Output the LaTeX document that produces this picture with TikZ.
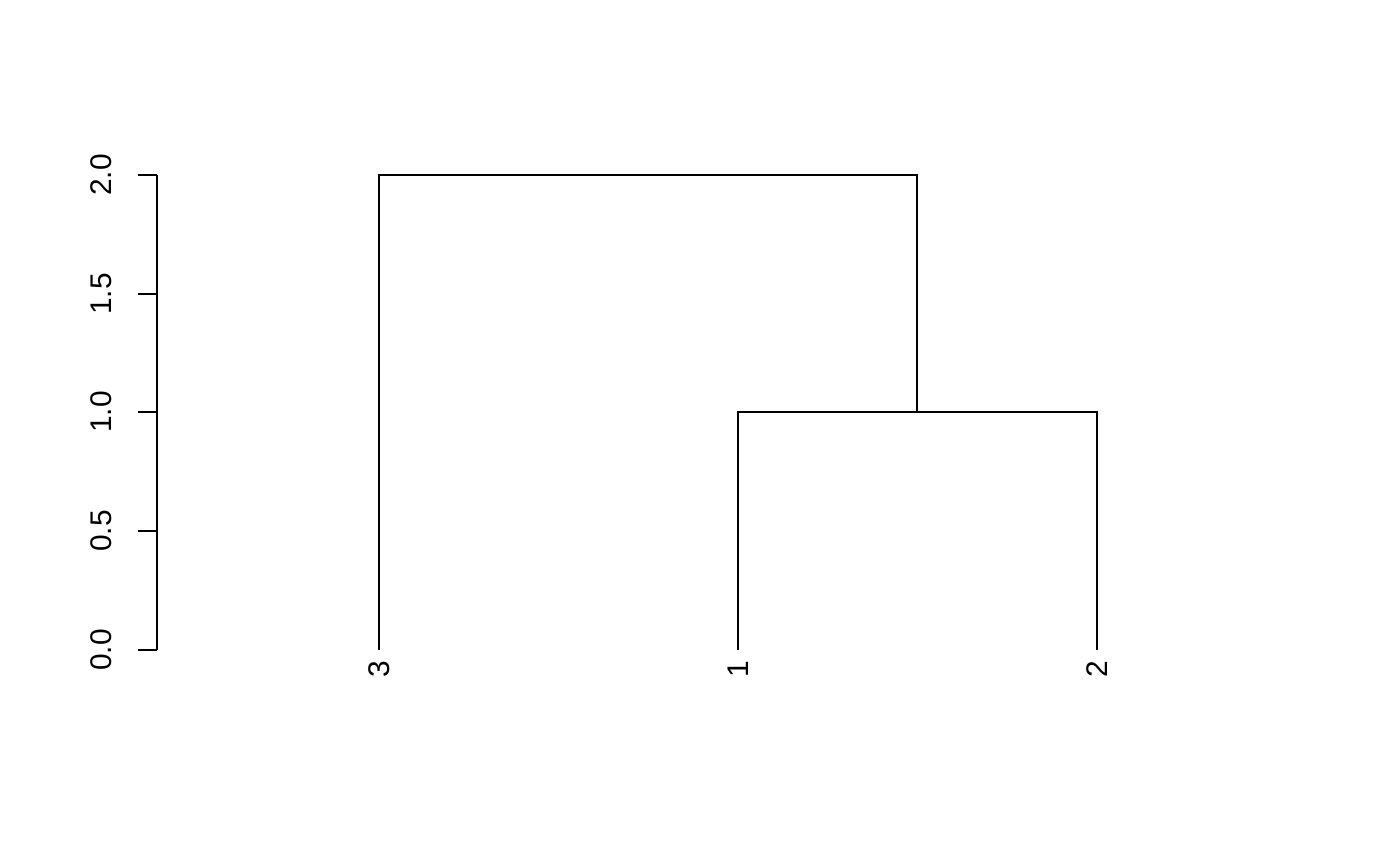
\documentclass[tikz,border=0pt]{standalone}
\usepackage{fontspec}
\setmainfont{Liberation Sans}
\usepackage{tikz}

\begin{document}
\begin{tikzpicture}[x=0.01cm,y=-0.01cm,line width=0.57pt,
    ticklab/.style={rotate=90,inner sep=0pt,font=\fontsize{8.5pt}{10pt}\selectfont},
    leaflab/.style={rotate=90,anchor=east,inner sep=0pt,font=\fontsize{8.5pt}{10pt}\selectfont}]
                \useasboundingbox (0,0) rectangle (1400,866);
                % axis
                \draw (157,175) -- (157,650);
                \foreach \v/\y in {0.0/650,0.5/531,1.0/412,1.5/294,2.0/175} {
                    \draw (138,\y) -- (157,\y);
                    \node [ticklab] (tick\y) at (101,\y) {\v};
                }
                % leaves and merges
                \coordinate (leafC) at (379,650);
                \coordinate (leafA) at (738,650);
                \coordinate (leafB) at (1097,650);
                \coordinate (mergeAB) at (917,412);
                \coordinate (top) at (648,175);
                \draw (leafA) |- (mergeAB) -| (leafB);
                \draw (leafC) |- (top) -| (mergeAB);
                \node [leaflab] (labC) at (379,660) {3};
                \node [leaflab] (labA) at (738,660) {1};
                \node [leaflab] (labB) at (1097,660) {2};
            \end{tikzpicture}
\end{document}
